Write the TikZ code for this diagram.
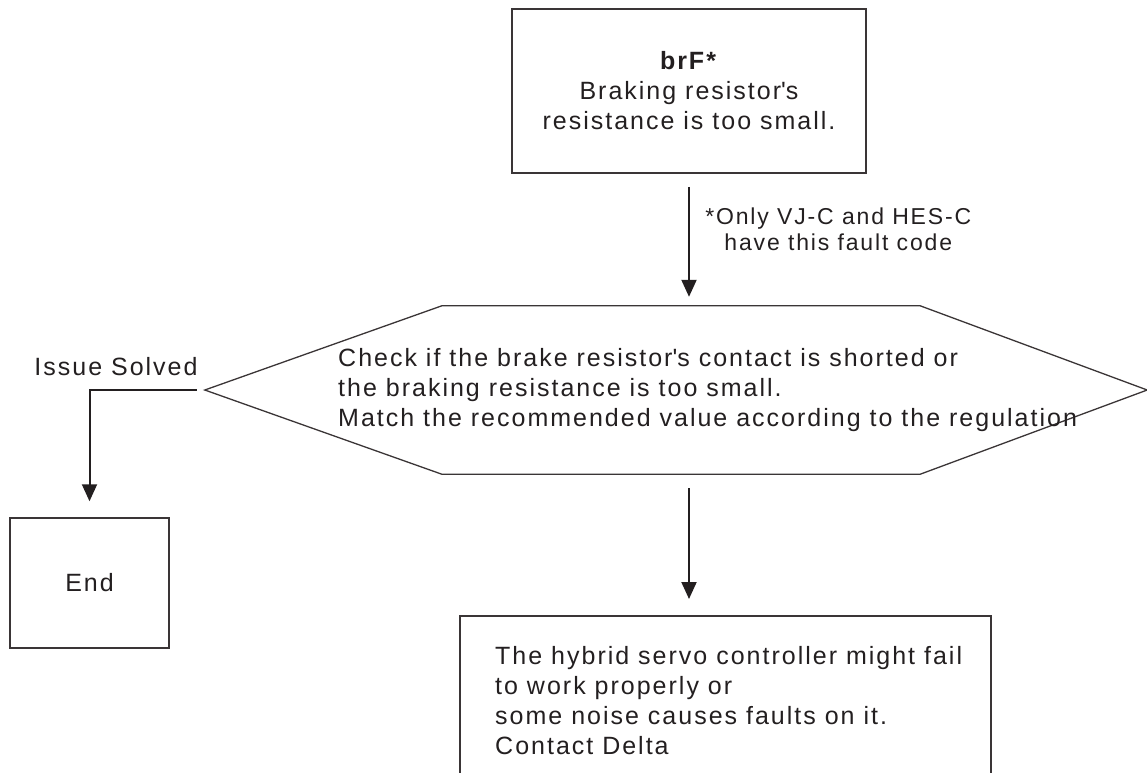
\documentclass[tikz,border=0pt]{standalone}
\usepackage{fontspec}
\setmainfont{Liberation Sans}[LetterSpace=8]
\usepackage{tikz}
\usetikzlibrary{arrows.meta, positioning, calc}
\definecolor{deltaInk}{HTML}{231F20}
\definecolor{deltaLine}{HTML}{3A3536}

\begin{document}
\begin{tikzpicture}[
  x=1pt, y=-1pt,
  >={Triangle[length=17pt, width=15pt]},
  font=\fontsize{25}{30}\selectfont,
  text=deltaInk,
  faultbox/.style={draw=deltaLine, line width=1.5pt, align=center, inner sep=0pt},
  textblock/.style={align=left, inner sep=0pt},
  line/.style={->, line width=2pt, draw=deltaInk},
  hexline/.style={draw=deltaLine, line width=1.3pt, line join=miter}
]
\useasboundingbox (0,0) rectangle (1147,772);
\clip (0,0) rectangle (1147,772);

\node[faultbox, minimum width=354pt, minimum height=164pt] (fault) at (689,91)
  {\textbf{brF*}\\Braking resistor\textquotesingle s\\resistance is too small.};

\node[minimum width=942pt, minimum height=168pt, inner sep=0pt] (check) at (676,390) {};
\draw[hexline] (check.west) -- ($(check.north west)+(237,0)$) -- ($(check.north east)+(-227,0)$)
  -- (check.east) -- ($(check.south east)+(-227,0)$) -- ($(check.south west)+(237,0)$) -- cycle;
\node[textblock, anchor=west] (checktext) at (338,390)
  {Check if the brake resistor\textquotesingle s contact is shorted or\\the braking resistance is too small.\\Match the recommended value according to the regulation};

\node[faultbox, minimum width=159pt, minimum height=130pt] (end) at (89.5,583) {End};
\node (solved) at (116,367) {Issue Solved};

\node[faultbox, anchor=north west, minimum width=531pt, minimum height=200pt] (contact) at (459,615) {};
\node[textblock, anchor=north west] (contacttext) at (495,646)
  {The hybrid servo controller might fail\\to work properly or\\some noise causes faults on it.\\Contact Delta};

\draw[line, shorten <=13pt, shorten >=9pt] (fault.south) -- (fault.south |- check.north)
  node[midway, right=12pt, yshift=11pt, align=center, font=\fontsize{23}{26}\selectfont] (note) {*Only VJ-C and HES-C\\have this fault code};
\draw[line, shorten <=14pt, shorten >=16pt] (fault.south |- check.south) -- (fault.south |- contact.north);
\draw[line, shorten <=8pt, shorten >=16pt] (check.west) -| (end.north);

\end{tikzpicture}
\end{document}
